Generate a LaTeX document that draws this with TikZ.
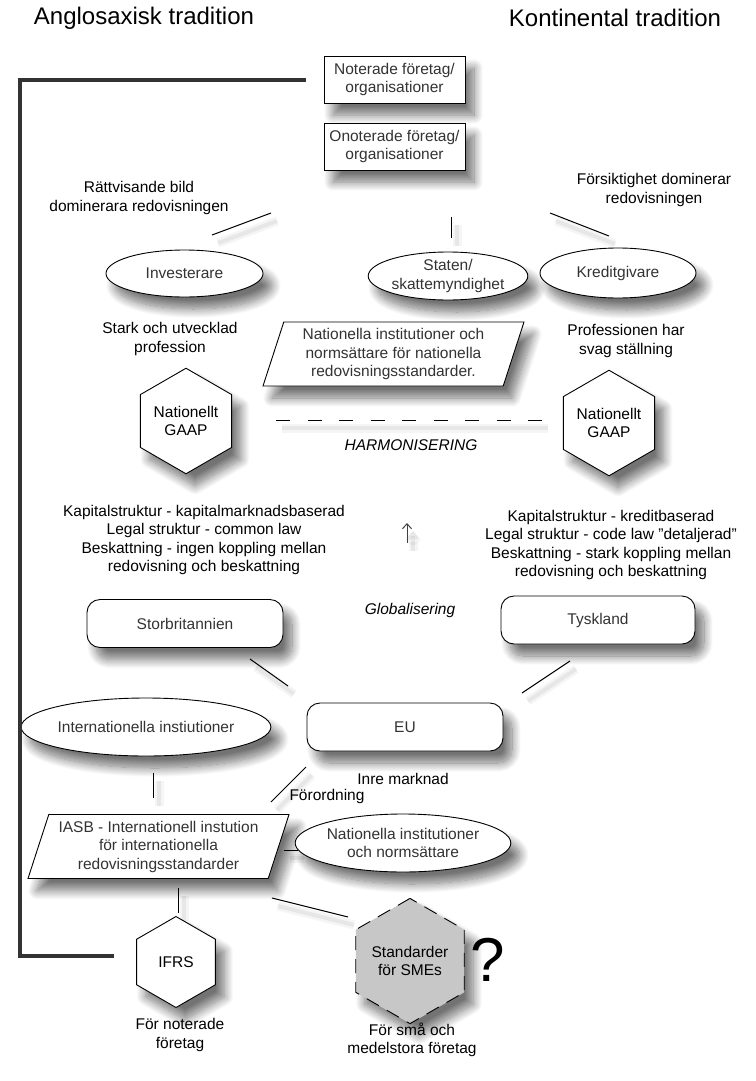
\documentclass[tikz,border=0pt]{standalone}
\usepackage{fontspec}
\setmainfont{Liberation Sans}
\usetikzlibrary{shapes.geometric,arrows.meta,shadows.blur}

\begin{document}
\begin{tikzpicture}[x=1bp, y=-1bp,
    txt/.style={font=\fontsize{15.5bp}{18.5bp}\selectfont, align=center, inner sep=0pt},
    shad/.style={blur shadow={shadow xshift=9bp, shadow yshift=-12bp, shadow blur radius=9bp, shadow blur steps=14, shadow opacity=55}},
    box/.style={txt, rectangle, draw, line width=0.9bp, fill=white, shad, text=black!80, minimum width=141bp, minimum height=47bp},
    rbox/.style={txt, rectangle, rounded corners=13bp, draw, line width=0.9bp, fill=white, shad, text=black!80, minimum width=196bp, minimum height=48bp},
    oval/.style={txt, ellipse, draw, line width=0.9bp, fill=white, shad, text=black!80},
    para/.style={txt, trapezium, trapezium left angle=68, trapezium right angle=112, trapezium stretches body, draw, line width=0.9bp, fill=white, shad, text=black!80, minimum width=261bp, minimum height=64bp},
    hexa/.style={txt, regular polygon, regular polygon sides=6, shape border rotate=30, minimum size=91bp, draw, line width=0.9bp, fill=white, shad, text=black},
    conn/.style={line width=1bp,
        preaction={draw, black, opacity=0.04, line width=9bp, transform canvas={shift={(6bp,-8bp)}}},
        preaction={draw, black, opacity=0.06, line width=4bp, transform canvas={shift={(6bp,-8bp)}}}},
    title/.style={font=\fontsize{24bp}{28bp}\selectfont, inner sep=0pt}
]
    \useasboundingbox (0,0) rectangle (756,1081);

    \node[title] (anglo) at (144,18) {Anglosaxisk tradition};
    \node[title] (konti) at (615,18) {Kontinental tradition};

    \node[box] (noterade) at (394.5,79.5) {Noterade företag/\\organisationer};
    \node[box] (onoterade) at (394.5,146.5) {Onoterade företag/\\organisationer};

    \node[txt] (rattvis) at (139,198) {Rättvisande bild\\dominerara redovisningen};
    \node[txt] (forsikt) at (654,190) {Försiktighet dominerar\\redovisningen};

    \node[oval, minimum width=157bp, minimum height=47bp] (invest) at (184.5,273.5) {Investerare};
    \node[oval, minimum width=156bp, minimum height=48bp] (staten) at (448,276) {Staten/\\skattemyndighet};
    \node[oval, minimum width=156bp, minimum height=50bp] (kredit) at (618,273) {Kreditgivare};

    \node[txt] (stark) at (170,339) {Stark och utvecklad\\profession};
    \node[txt] (prof) at (626,341) {Professionen har\\svag ställning};
    \node[para] (natinst) at (393.5,354) {Nationella institutioner och\\normsättare för nationella\\redovisningsstandarder.};

    \node[hexa] (gaapL) at (186,421) {Nationellt\\GAAP};
    \node[hexa] (gaapR) at (609,423) {Nationellt\\GAAP};
    \node[txt, font=\fontsize{15.5bp}{18.5bp}\selectfont\itshape] (harmon) at (411,445) {HARMONISERING};

    \node[txt] (kapL) at (204,540) {Kapitalstruktur - kapitalmarknadsbaserad\\Legal struktur - common law\\Beskattning - ingen koppling mellan\\redovisning och beskattning};
    \node[txt] (kapR) at (611,545) {Kapitalstruktur - kreditbaserad\\Legal struktur - code law "detaljerad"\\Beskattning - stark koppling mellan\\redovisning och beskattning};

    \node[rbox] (uk) at (185,623.5) {Storbritannien};
    \node[rbox, minimum width=194bp] (de) at (598,620) {Tyskland};
    \node[txt, font=\fontsize{15.5bp}{18.5bp}\selectfont\itshape] (glob) at (410,610) {Globalisering};

    \node[oval, minimum width=194bp, minimum height=58bp] (intinst) at (146,727) {Internationella instiutioner};
    \node[rbox] (eu) at (405,727) {EU};
    \node[txt] (inre) at (403,779) {Inre marknad};
    \node[txt] (forord) at (327,796) {Förordning};

    \node[para] (iasb) at (158.5,846.5) {IASB - Internationell instution\\för internationella\\redovisningsstandarder};
    \node[oval, minimum width=197bp, minimum height=58bp] (natnorm) at (403,843) {Nationella institutioner\\och normsättare};

    \node[hexa] (ifrs) at (176,962) {IFRS};
    \node[hexa, fill=black!22, dash pattern=on 14bp off 9bp] (sme) at (410,961) {Standarder\\för SMEs};
    \node[font=\fontsize{62bp}{62bp}\selectfont, inner sep=0pt] (quest) at (488,960) {?};

    \node[txt] (fornot) at (180,1035) {För noterade\\företag};
    \node[txt] (forsma) at (412,1040) {För små och\\medelstora företag};

    % free line ends
    \coordinate (a1) at (212,235); \coordinate (a2) at (271,213);
    \coordinate (b1) at (451,238); \coordinate (b2) at (451,217);
    \coordinate (c1) at (609,236); \coordinate (c2) at (550,213);
    \coordinate (d1) at (250,659); \coordinate (d2) at (288,686);
    \coordinate (e1) at (570,661); \coordinate (e2) at (522,693);
    \coordinate (f1) at (153,773); \coordinate (f2) at (153,798);
    \coordinate (g1) at (306,767); \coordinate (g2) at (271,802);
    \coordinate (h1) at (284,850); \coordinate (h2) at (298,850);
    \coordinate (i1) at (178,888); \coordinate (i2) at (178,913);
    \coordinate (j1) at (272,898); \coordinate (j2) at (348,917);
    \coordinate (k1) at (276,420); \coordinate (k2) at (542,420);
    \coordinate (m1) at (407,543); \coordinate (m2) at (407,523);
    \coordinate (frameA) at (306,80); \coordinate (frameB) at (114,956);

    \foreach \s/\t in {a1/a2, b1/b2, c1/c2, d1/d2, e1/e2, f1/f2, g1/g2, h1/h2, i1/i2, j1/j2}
        \draw[conn] (\s) -- (\t);
    \draw[conn, dash pattern=on 14bp off 17.5bp] (k1) -- (k2);
    \draw[conn, black!75, -{Straight Barb[length=5bp, width=9bp]}] (m1) -- (m2);

    \draw[line width=3.5bp, black!80] (frameA) -| (20,956) -- (frameB);
\end{tikzpicture}
\end{document}
